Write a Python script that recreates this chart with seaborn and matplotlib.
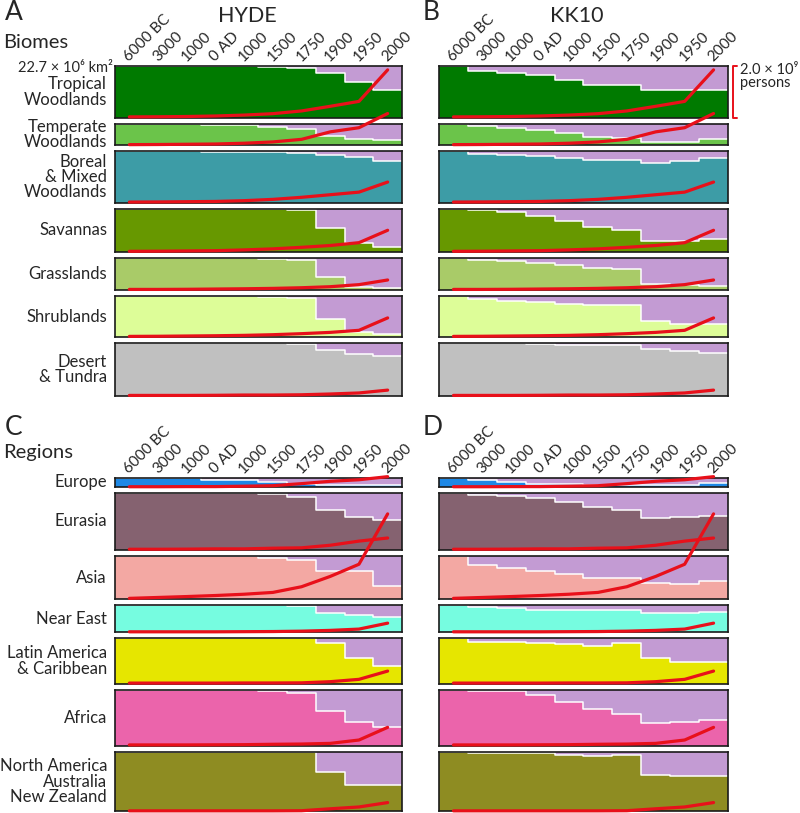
import numpy as np
import matplotlib.pyplot as plt
import matplotlib.transforms as mtransforms
import seaborn as sns

sns.set_theme(style="white")
plt.rcParams['font.family'] = ['Lato', 'DejaVu Sans']

# time steps (equal-width bins)
periods = ["6000 BC", "3000", "1000", "0 AD", "1000", "1500", "1750", "1900", "1950", "2000"]

# ---- biomes ----
biome_names = ["Tropical\nWoodlands", "Temperate\nWoodlands", "Boreal\n& Mixed\nWoodlands",
               "Savannas", "Grasslands", "Shrublands", "Desert\n& Tundra"]
biome_area = [22.7, 9.5, 22.6, 19.0, 14.1, 18.0, 23.3]  # 10^6 km2
biome_colors = ["#007A00", "#6BC44A", "#3D9CA6", "#679800", "#A9CB68", "#DDFD98", "#C0C0C0"]

# population, 10^9 persons
biome_pop = [
    [0.03, 0.035, 0.045, 0.065, 0.10, 0.155, 0.26, 0.44, 0.63, 1.85],
    [0.025, 0.03, 0.04, 0.05, 0.08, 0.13, 0.23, 0.52, 0.68, 1.23],
    [0.025, 0.03, 0.04, 0.05, 0.08, 0.13, 0.21, 0.31, 0.41, 0.80],
    [0.025, 0.03, 0.04, 0.05, 0.08, 0.12, 0.18, 0.25, 0.36, 0.84],
    [0.025, 0.025, 0.03, 0.04, 0.05, 0.065, 0.09, 0.13, 0.21, 0.39],
    [0.025, 0.03, 0.04, 0.05, 0.065, 0.09, 0.13, 0.18, 0.26, 0.74],
    [0.025, 0.025, 0.025, 0.03, 0.04, 0.04, 0.05, 0.08, 0.12, 0.23],
]

# fraction of land used
hyde_biome_used = [
    [0, 0, 0, 0, 0, 0.013, 0.045, 0.14, 0.31, 0.46],
    [0, 0, 0, 0.07, 0.07, 0.15, 0.25, 0.55, 0.70, 0.77],
    [0, 0, 0, 0.013, 0.013, 0.013, 0.03, 0.077, 0.12, 0.19],
    [0, 0, 0, 0, 0, 0.01, 0.04, 0.45, 0.80, 0.89],
    [0, 0, 0, 0, 0, 0.02, 0.05, 0.58, 0.90, 0.94],
    [0, 0, 0, 0, 0, 0.016, 0.05, 0.57, 0.87, 0.93],
    [0, 0, 0, 0, 0, 0.005, 0.015, 0.13, 0.20, 0.25],
]
kk10_biome_used = [
    [0, 0.10, 0.14, 0.175, 0.27, 0.37, 0.37, 0.465, 0.465, 0.46],
    [0, 0.10, 0.19, 0.30, 0.45, 0.60, 0.65, 0.85, 0.84, 0.72],
    [0, 0.045, 0.065, 0.09, 0.13, 0.175, 0.175, 0.22, 0.185, 0.13],
    [0, 0.04, 0.08, 0.16, 0.29, 0.42, 0.49, 0.75, 0.75, 0.70],
    [0, 0.07, 0.10, 0.15, 0.22, 0.30, 0.34, 0.80, 0.85, 0.88],
    [0, 0.07, 0.11, 0.15, 0.19, 0.23, 0.23, 0.61, 0.67, 0.69],
    [0, 0, 0, 0.025, 0.03, 0.03, 0.03, 0.12, 0.15, 0.18],
]

# ---- regions ----
region_names = ["Europe", "Eurasia", "Asia", "Near East", "Latin America\n& Caribbean",
                "Africa", "North America\nAustralia\nNew Zealand"]
region_area = [3.95, 25.0, 19.0, 12.0, 19.9, 24.7, 26.1]
region_colors = ["#1E88E5", "#856270", "#F3A8A3", "#76FCE0", "#E6E600", "#EB64AB", "#8E8C22"]

region_pop = [
    [0.01, 0.01, 0.015, 0.015, 0.03, 0.05, 0.13, 0.22, 0.28, 0.40],
    [0.025, 0.025, 0.03, 0.04, 0.04, 0.065, 0.08, 0.18, 0.34, 0.46],
    [0.03, 0.065, 0.10, 0.14, 0.19, 0.26, 0.48, 0.88, 1.35, 3.3],
    [0.025, 0.025, 0.025, 0.025, 0.03, 0.035, 0.05, 0.08, 0.13, 0.36],
    [0.025, 0.025, 0.025, 0.025, 0.03, 0.03, 0.035, 0.08, 0.17, 0.49],
    [0.04, 0.04, 0.04, 0.045, 0.05, 0.065, 0.075, 0.10, 0.23, 0.72],
    [0.02, 0.02, 0.02, 0.02, 0.02, 0.02, 0.025, 0.10, 0.17, 0.34],
]

hyde_region_used = [
    [0, 0, 0, 0.2, 0.2, 0.4, 0.7, 0.75, 0.8, 0.8],
    [0, 0, 0, 0, 0, 0.02, 0.07, 0.30, 0.43, 0.48],
    [0, 0, 0, 0, 0, 0.05, 0.10, 0.34, 0.36, 0.69],
    [0, 0, 0, 0, 0, 0, 0.02, 0.28, 0.37, 0.43],
    [0, 0, 0, 0, 0, 0, 0, 0.11, 0.44, 0.60],
    [0, 0, 0, 0, 0, 0.03, 0.06, 0.37, 0.57, 0.67],
    [0, 0, 0, 0, 0, 0, 0, 0.34, 0.55, 0.55],
]
kk10_region_used = [
    [0, 0.25, 0.45, 0.7, 0.7, 0.75, 0.75, 0.8, 0.8, 0.6],
    [0, 0.03, 0.05, 0.08, 0.15, 0.25, 0.30, 0.44, 0.43, 0.41],
    [0, 0.21, 0.27, 0.35, 0.42, 0.51, 0.52, 0.63, 0.64, 0.59],
    [0, 0.06, 0.10, 0.17, 0.17, 0.17, 0.17, 0.27, 0.27, 0.25],
    [0, 0.075, 0.075, 0.10, 0.13, 0.17, 0.10, 0.43, 0.52, 0.52],
    [0, 0.03, 0.03, 0.09, 0.21, 0.35, 0.44, 0.60, 0.57, 0.53],
    [0, 0.02, 0.02, 0.02, 0.045, 0.06, 0.055, 0.38, 0.41, 0.40],
]

purple = "#C39BD3"
red = "#E8101A"
pop_scale = 22.7 / 2.0   # 2.0e9 persons drawn as tall as 22.7e6 km2

W, H = 800, 813
px_per_area = 2.276
gap = 6

fig = plt.figure(figsize=(8, 8.13), dpi=100)


def draw_row(ax, area, used, pop, color):
    edges = np.arange(len(periods) + 1)
    centers = edges[:-1] + 0.5
    wild = area * (1 - np.array(used))
    wild_step = np.append(wild, wild[-1])
    ax.set_facecolor(purple)
    ax.fill_between(edges, wild_step, step='post', color=color, lw=0)
    ax.step(edges, wild_step, where='post', color='white', lw=1.1)
    sns.lineplot(x=centers, y=np.array(pop) * pop_scale, ax=ax, color=red, lw=2.3,
                 clip_on=False, zorder=3, solid_capstyle='round')
    ax.set_xlim(0, len(periods))
    ax.set_ylim(0, area)
    ax.set_xticks([])
    ax.set_yticks([])
    ax.set_xlabel("")
    ax.set_ylabel("")
    for s in ax.spines.values():
        s.set_visible(True)
        s.set_color("#1a1a1a")
        s.set_linewidth(1.2)


def draw_panel(x0, x1, top, areas, used, pops, colors, names=None):
    y = top
    axes = []
    for i, area in enumerate(areas):
        h = area * px_per_area
        ax = fig.add_axes([x0 / W, 1 - (y + h) / H, (x1 - x0) / W, h / H])
        draw_row(ax, area, used[i], pops[i], colors[i])
        if names is not None:
            fig.text(107 / W, 1 - (y + h / 2) / H, names[i], ha='right', va='center',
                     fontsize=12, linespacing=0.95)
        axes.append(ax)
        y += h + gap
    top_ax = axes[0]
    top_ax.xaxis.set_ticks_position('top')
    top_ax.set_xticks(np.arange(len(periods)) + 0.5)
    top_ax.set_xticklabels(periods, rotation=45, ha='left', va='baseline',
                           rotation_mode='anchor', fontsize=11)
    top_ax.tick_params(axis='x', length=0, pad=3)
    return axes


axA = draw_panel(115, 402, 66, biome_area, hyde_biome_used, biome_pop, biome_colors, biome_names)
axB = draw_panel(439, 728, 66, biome_area, kk10_biome_used, biome_pop, biome_colors)
axC = draw_panel(115, 402, 478, region_area, hyde_region_used, region_pop, region_colors, region_names)
axD = draw_panel(439, 728, 478, region_area, kk10_region_used, region_pop, region_colors)

# panel letters and titles
for lab, x, y in [("A", 5, 13), ("B", 423, 13), ("C", 5, 427), ("D", 423, 427)]:
    fig.text(x / W, 1 - y / H, lab, fontsize=19, va='center', ha='left')
fig.text(247 / W, 1 - 16 / H, "HYDE", fontsize=15.5, ha='center', va='center')
fig.text(577 / W, 1 - 16 / H, "KK10", fontsize=15.5, ha='center', va='center')
fig.text(3 / W, 1 - 48 / H, "Biomes", fontsize=14.5, ha='left', va='baseline')
fig.text(3 / W, 1 - 458 / H, "Regions", fontsize=14.5, ha='left', va='baseline')
fig.text(113 / W, 1 - 72 / H, "22.7 × 10⁶ km²", fontsize=10.5, ha='right', va='baseline')

# population scale bracket
axT = axB[0]
tr = mtransforms.blended_transform_factory(axT.transAxes, axT.transData)
bx, bs = 1.017, 1.031
axT.plot([bs, bx, bx, bs], [0, 0, 2.0 * pop_scale, 2.0 * pop_scale], color=red, lw=1.4,
         transform=tr, clip_on=False)
fig.text(740 / W, 1 - 63 / H, "2.0 × 10⁹\npersons", fontsize=10.5, ha='left', va='top',
         linespacing=0.95)

fig.savefig("out.png", dpi=100)
